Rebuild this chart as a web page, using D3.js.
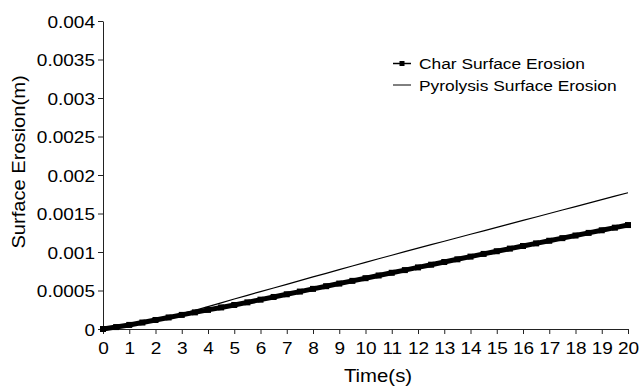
<!DOCTYPE html>
<html>
<head>
<meta charset="utf-8">
<script src="https://cdn.jsdelivr.net/npm/d3@7"></script>
<style>
  body { margin: 0; background: #fff; }
  text { font-family: "Liberation Sans", Arial, sans-serif; fill: #000; }
</style>
</head>
<body>
<div id="chart"></div>
<script>
// time steps (s)
const times = [0, 0.5, 1, 1.5, 2, 2.5, 3, 3.5, 4, 4.5, 5, 5.5, 6, 6.5, 7, 7.5, 8, 8.5, 9, 9.5,
    10, 10.5, 11, 11.5, 12, 12.5, 13, 13.5, 14, 14.5, 15, 15.5, 16, 16.5, 17, 17.5, 18, 18.5, 19, 19.5, 20];

// surface erosion (m)
const charErosion = [0, 0.000025, 0.000053, 0.000084, 0.000117, 0.00015, 0.000183, 0.000216, 0.000248, 0.00028,
    0.000312, 0.000346, 0.000381, 0.000416, 0.000451, 0.000486, 0.000521, 0.000556, 0.00059, 0.000625,
    0.00066, 0.000695, 0.00073, 0.000765, 0.0008, 0.000835, 0.00087, 0.000905, 0.00094, 0.000975,
    0.00101, 0.001044, 0.001078, 0.001112, 0.001146, 0.00118, 0.001214, 0.001248, 0.001282, 0.001316, 0.00135];

const pyroErosion = [0, 0.000025, 0.000055, 0.000088, 0.000123, 0.00016, 0.0002, 0.000242, 0.000291, 0.00034,
    0.00039, 0.000437, 0.000485, 0.000532, 0.00058, 0.000628, 0.000676, 0.000723, 0.000771, 0.000818,
    0.000866, 0.000912, 0.000958, 0.001004, 0.00105, 0.001095, 0.00114, 0.001185, 0.00123, 0.001275,
    0.00132, 0.001365, 0.00141, 0.001455, 0.0015, 0.001545, 0.00159, 0.001635, 0.00168, 0.001725, 0.00177];

const xTicks = d3.range(0, 21, 1);
const yTicks = [0, 0.0005, 0.001, 0.0015, 0.002, 0.0025, 0.003, 0.0035, 0.004];
const seriesNames = ["Char Surface Erosion", "Pyrolysis Surface Erosion"];

const W = 639, H = 386;
const margin = { top: 21, right: 11, bottom: 57, left: 103 };
const width = W - margin.left - margin.right,
    height = H - margin.top - margin.bottom;

const sx = 1.12; // text in the original is a bit wider than Arial

const svgRoot = d3.select("#chart").append("svg")
    .attr("width", W)
    .attr("height", H);

const svg = svgRoot.append("g")
    .attr("transform", `translate(${margin.left},${margin.top})`);

const xScale = d3.scaleLinear().domain([0, 20]).range([0, width]);
const yScale = d3.scaleLinear().domain([0, 0.004]).range([height, 0]);

const charData = times.map((t, i) => ({ t: t, v: charErosion[i] }));
const pyroData = times.map((t, i) => ({ t: t, v: pyroErosion[i] }));

// axes
const xAxis = d3.axisBottom(xScale).tickValues(xTicks).tickSize(5).tickSizeOuter(0).tickFormat(d3.format("d"));
const yAxis = d3.axisLeft(yScale).tickValues(yTicks).tickSize(5).tickSizeOuter(0).tickFormat(d => d === 0 ? "0" : String(+d.toFixed(4)));

svg.append("g")
    .attr("transform", `translate(0,${height})`)
    .call(xAxis)
    .call(g => g.selectAll("line, path").attr("stroke", "#222"))
    .selectAll("text")
    .attr("font-size", 17)
    .attr("font-family", null)
    .attr("y", 13)
    .attr("dy", "0.71em")
    .attr("transform", `scale(${sx},1)`);

svg.append("g")
    .call(yAxis)
    .call(g => g.selectAll("line, path").attr("stroke", "#222"))
    .selectAll("text")
    .attr("font-size", 17)
    .attr("font-family", null)
    .attr("x", -8 / sx)
    .attr("dy", "0.36em")
    .attr("transform", `scale(${sx},1)`);

// axis titles
svgRoot.append("text")
    .attr("transform", `translate(378,382) scale(1.1,1)`)
    .attr("text-anchor", "middle")
    .attr("font-size", 18.5)
    .text("Time(s)");

svgRoot.append("text")
    .attr("transform", `translate(25,162) rotate(-90) scale(1.15,1)`)
    .attr("text-anchor", "middle")
    .attr("font-size", 17.5)
    .text("Surface Erosion(m)");

// lines
const line = d3.line()
    .x(d => xScale(d.t))
    .y(d => yScale(d.v));

svg.append("path")
    .datum(pyroData)
    .attr("fill", "none")
    .attr("stroke", "#000")
    .attr("stroke-width", 1.2)
    .attr("d", line);

svg.append("path")
    .datum(charData)
    .attr("fill", "none")
    .attr("stroke", "#000")
    .attr("stroke-width", 5)
    .attr("stroke-linejoin", "round")
    .attr("d", line);

svg.append("g")
    .selectAll("rect")
    .data(charData)
    .join("rect")
    .attr("x", d => xScale(d.t) - 3)
    .attr("y", d => yScale(d.v) - 3)
    .attr("width", 6)
    .attr("height", 6)
    .attr("fill", "#000");

// legend
const legend = svgRoot.append("g")
    .attr("transform", "translate(393,63.5)");

const item = legend.selectAll("g")
    .data(seriesNames)
    .join("g")
    .attr("transform", (d, i) => `translate(0,${i * 21.5})`);

item.append("line")
    .attr("x1", 0)
    .attr("x2", 18)
    .attr("stroke", "#000")
    .attr("stroke-width", (d, i) => i === 0 ? 1.5 : 1);

item.filter((d, i) => i === 0)
    .append("rect")
    .attr("x", 6.5)
    .attr("y", -2.5)
    .attr("width", 5)
    .attr("height", 5)
    .attr("fill", "#000");

item.append("text")
    .attr("transform", `translate(26,0) scale(${sx},1)`)
    .attr("dy", "0.36em")
    .attr("font-size", 15.5)
    .text(d => d);
</script>
</body>
</html>
